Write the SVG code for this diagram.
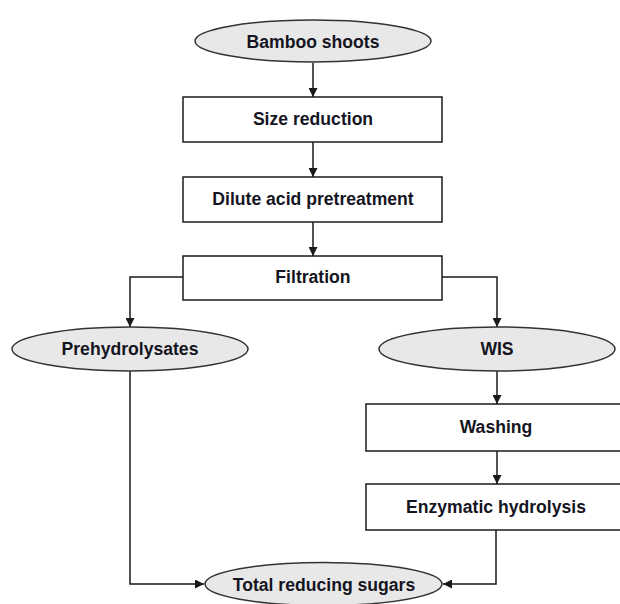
<svg xmlns="http://www.w3.org/2000/svg" width="620" height="604" viewBox="0 0 620 604">
  <style>
    .box { fill: #ffffff; stroke: #1a1a1a; stroke-width: 1.5; }
    .oval { fill: #e8e8e8; stroke: #333333; stroke-width: 1.5; }
    .lbl { font-family: "Liberation Sans", Arial, sans-serif; font-size: 17.6px; font-weight: bold; fill: #15151f; text-anchor: middle; dominant-baseline: central; }
    .wire { fill: none; stroke: #1a1a1a; stroke-width: 1.5; marker-end: url(#tip); }
  </style>
  <defs>
    <marker id="tip" viewBox="0 0 10 10" refX="10" refY="5" markerWidth="9" markerHeight="9" markerUnits="userSpaceOnUse" orient="auto">
      <path d="M0,0 L10,5 L0,10 z" fill="#1a1a1a"/>
    </marker>
  </defs>
  <rect width="620" height="604" fill="#ffffff"/>

  <g id="connectors">
    <path class="wire" d="M313,63 V97"/>
    <path class="wire" d="M313,142 V177"/>
    <path class="wire" d="M313,222 V256"/>
    <path class="wire" d="M183,277 H130 V327"/>
    <path class="wire" d="M442,277 H497 V327"/>
    <path class="wire" d="M497,371 V404"/>
    <path class="wire" d="M497,451 V484"/>
    <path class="wire" d="M130,371 V584 H204"/>
    <path class="wire" d="M496,530 V584 H443"/>
  </g>

  <g id="bamboo-shoots">
    <ellipse class="oval" cx="313" cy="41" rx="118" ry="21"/>
    <text class="lbl" x="313" y="42">Bamboo shoots</text>
  </g>
  <g id="size-reduction">
    <rect class="box" x="183" y="97" width="259" height="45"/>
    <text class="lbl" x="313" y="119">Size reduction</text>
  </g>
  <g id="dilute-acid">
    <rect class="box" x="183" y="177" width="259" height="45"/>
    <text class="lbl" x="313" y="199">Dilute acid pretreatment</text>
  </g>
  <g id="filtration">
    <rect class="box" x="183" y="256" width="259" height="44"/>
    <text class="lbl" x="313" y="277">Filtration</text>
  </g>
  <g id="prehydrolysates">
    <ellipse class="oval" cx="130" cy="349" rx="118" ry="22"/>
    <text class="lbl" x="130" y="349">Prehydrolysates</text>
  </g>
  <g id="wis">
    <ellipse class="oval" cx="497" cy="349" rx="118" ry="22"/>
    <text class="lbl" x="497" y="349">WIS</text>
  </g>
  <g id="washing">
    <rect class="box" x="366" y="404" width="256" height="47"/>
    <text class="lbl" x="496" y="427">Washing</text>
  </g>
  <g id="enzymatic-hydrolysis">
    <rect class="box" x="366" y="484" width="256" height="46"/>
    <text class="lbl" x="496" y="507">Enzymatic hydrolysis</text>
  </g>
  <g id="total-reducing-sugars">
    <ellipse class="oval" cx="323.5" cy="584" rx="118.5" ry="21.5"/>
    <text class="lbl" x="324" y="585">Total reducing sugars</text>
  </g>
</svg>
